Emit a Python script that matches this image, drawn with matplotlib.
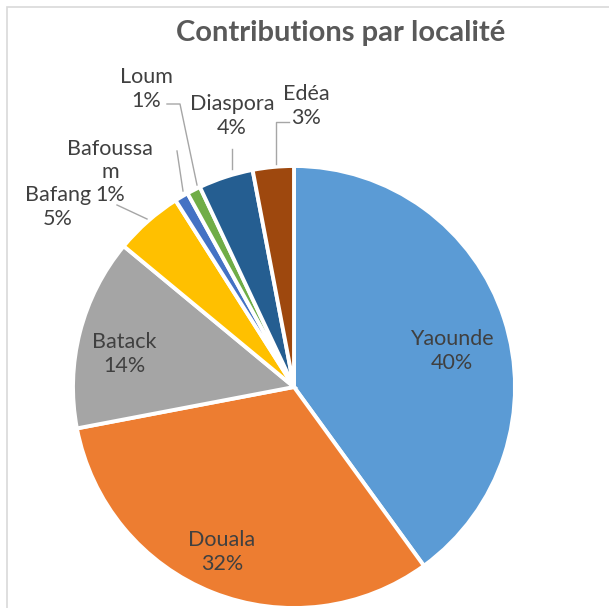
import matplotlib
matplotlib.use("Agg")
import matplotlib.pyplot as plt
from matplotlib.patches import Rectangle

# ---- data ----
categories = ["Yaounde", "Douala", "Batack", "Bafang", "Bafoussam", "Loum", "Diaspora", "Edéa"]
values = [40, 32, 14, 5, 1, 1, 4, 3]
label_texts = ["Yaounde\n40%", "Douala\n32%", "Batack\n14%", "Bafang\n5%",
               "Bafoussa\nm\n1%", "Loum\n1%", "Diaspora\n4%", "Edéa\n3%"]
colors = ["#5B9BD5", "#ED7D31", "#A5A5A5", "#FFC000", "#4472C4", "#70AD47", "#255E91", "#9E480E"]
title = "Contributions par localité"

# ---- layout (pixel coords, y downward) ----
W, H = 609, 608
label_pos = [(452, 351), (222, 552), (124, 354), (58, 207),
             (110, 172), (146, 89), (232, 116), (306, 106)]
leaders = {
    "Bafang": [(117, 205), (147, 219)],
    "Bafoussam": [(177, 151), (183, 191)],
    "Loum": [(167, 104), (180, 104), (197, 185)],
    "Diaspora": [(232, 149), (232, 169)],
    "Edéa": [(289, 122), (276, 122), (276, 164)],
}
center_px = (294, 387)
radius_px = 221

def Y(y):
    return H - y

fig = plt.figure(figsize=(W / 100, H / 100), dpi=100)
ax = fig.add_axes([0, 0, 1, 1])

# chart border
ax.add_patch(Rectangle((7, Y(H + 5)), W + 10, H - 2, fill=False,
                       edgecolor="#D9D9D9", linewidth=1.2))

ax.pie(values, colors=colors, startangle=90, counterclock=False,
       center=(center_px[0], Y(center_px[1])), radius=radius_px,
       wedgeprops=dict(edgecolor="white", linewidth=2.8), frame=True)
ax.set_xlim(0, W)
ax.set_ylim(0, H)
ax.set_aspect("equal")
ax.axis("off")

for pts in leaders.values():
    xs = [p[0] for p in pts]
    ys = [Y(p[1]) for p in pts]
    ax.plot(xs, ys, color="#A6A6A6", linewidth=1.0)

for txt, (x, y) in zip(label_texts, label_pos):
    ax.text(x, Y(y), txt, ha="center", va="center", fontsize=15.5,
            family="Lato", color="#404040", linespacing=1.2)

ax.text(341, Y(33), title, ha="center", va="center", fontsize=21,
        family="Lato", fontweight="bold", color="#595959")

fig.savefig("out.png", dpi=100)
